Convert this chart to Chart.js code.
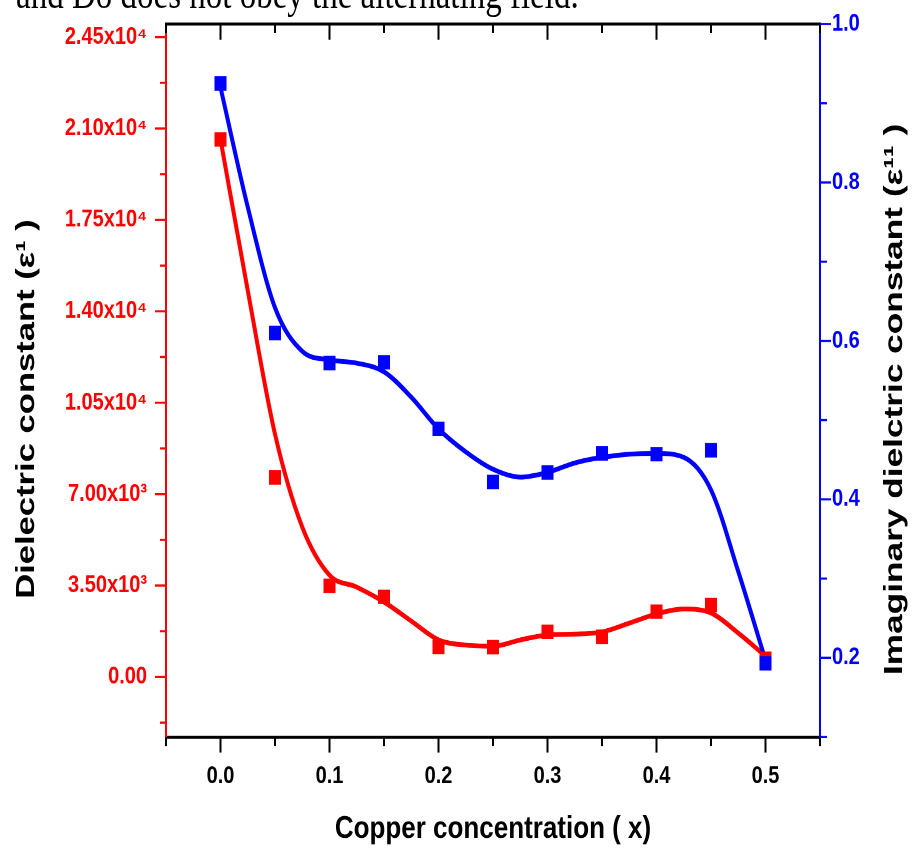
<!DOCTYPE html>
<html>
<head>
<meta charset="utf-8">
<script src="https://cdn.jsdelivr.net/npm/chart.js@4.4.1/dist/chart.umd.min.js"></script>
<style>
  html, body { margin: 0; padding: 0; background: #ffffff; }
  #page { position: relative; width: 912px; height: 848px; overflow: hidden; }
  #stretch { position: absolute; left: 0; top: 0; width: 912px; height: 706px; transform: scaleY(1.2011); transform-origin: 0 0; }
  #c { display: block; }
  #caption { position: absolute; left: 16px; top: -28px; font-family: 'Liberation Serif', 'Times New Roman', serif; font-size: 33px; white-space: nowrap; color: #000; transform: scaleY(1.25); transform-origin: top left; }
</style>
</head>
<body>
<div id="page">
  <div id="stretch"><canvas id="c" width="912" height="706"></canvas></div>
  <div id="caption">and Do does not obey the alternating field.</div>
</div>
<script>
// ---- data ----
const concentration = [0, 0.05, 0.1, 0.15, 0.2, 0.25, 0.3, 0.35, 0.4, 0.45, 0.5];
const dielectricReal = [20580, 7640, 3490, 3070, 1150, 1140, 1730, 1540, 2500, 2750, 700];
const dielectricImag = [0.925, 0.610, 0.572, 0.573, 0.489, 0.422, 0.434, 0.458, 0.457, 0.462, 0.193];

// smoothed fit curves
const fitX = [0, 0.025, 0.05, 0.075, 0.1, 0.125, 0.15, 0.175, 0.2, 0.225, 0.25, 0.275, 0.3, 0.325, 0.35, 0.375, 0.4, 0.425, 0.45, 0.475, 0.5];
const fitReal = [20580, 14800, 9300, 5740, 3900, 3440, 2870, 2140, 1420, 1220, 1180, 1415, 1610, 1640, 1720, 2060, 2410, 2600, 2450, 1680, 800];
const fitImag = [0.920, 0.769, 0.642, 0.587, 0.576, 0.572, 0.561, 0.529, 0.489, 0.460, 0.438, 0.428, 0.434, 0.446, 0.453, 0.457, 0.458, 0.453, 0.412, 0.309, 0.197];

// ticks
const xTickValues = [0, 0.1, 0.2, 0.3, 0.4, 0.5];
const xTickLabels = ['0.0', '0.1', '0.2', '0.3', '0.4', '0.5'];
const leftTickValues = [0, 3500, 7000, 10500, 14000, 17500, 21000, 24500];
const leftTickLabels = ['0.00', '3.50x10\u00B3', '7.00x10\u00B3', '1.05x10\u2074', '1.40x10\u2074', '1.75x10\u2074', '2.10x10\u2074', '2.45x10\u2074'];
const rightTickValues = [0.2, 0.4, 0.6, 0.8, 1.0];
const rightTickLabels = ['0.2', '0.4', '0.6', '0.8', '1.0'];

const xTitle = 'Copper concentration ( x)';
const leftTitle = 'Dielectric constant (\u03B5\u00B9 )';
const rightTitle = 'Imaginary dielctric constant (\u03B5\u00B9\u00B9 )';

// ---- styling ----
const RED = '#ff0000';
const BLUE = '#0000ff';
const FONT = "'Liberation Sans', Arial, sans-serif";

const pts = (xs, ys) => xs.map((x, i) => ({ x: x, y: ys[i] }));

const axisDecor = {
  id: 'axisDecor',
  afterDraw(chart) {
    const ctx = chart.ctx;
    const a = chart.chartArea;
    const sx = chart.scales.x, sy = chart.scales.y, sy1 = chart.scales.y1;
    const line = (x1, y1, x2, y2) => { ctx.beginPath(); ctx.moveTo(x1, y1); ctx.lineTo(x2, y2); ctx.stroke(); };
    ctx.save();
    // top frame line
    ctx.strokeStyle = '#000'; ctx.lineWidth = 2.5;
    line(a.left - 1, a.top, a.right + 1, a.top);
    // x ticks (bottom outward, top inward)
    ctx.lineWidth = 2;
    for (let i = -1; i <= 11; i++) {
      const v = i * 0.05;
      const px = sx.getPixelForValue(v);
      const len = (i % 2 === 0) ? 13 : 7.5;
      line(px, a.bottom, px, a.bottom + len);
      line(px, a.top, px, a.top + len);
    }
    // left ticks
    ctx.strokeStyle = RED;
    ctx.lineWidth = 1.8;
    for (let i = -1; i <= 14; i++) {
      const v = i * 1750;
      if (v < sy.min || v > sy.max) continue;
      const py = sy.getPixelForValue(v);
      const len = (i % 2 === 0) ? 11 : 6;
      line(a.left - len, py, a.left, py);
    }
    // right ticks
    ctx.strokeStyle = BLUE;
    for (let i = 1; i <= 10; i++) {
      const v = i * 0.1;
      const py = sy1.getPixelForValue(v);
      const len = (i % 2 === 0) ? 11 : 7;
      line(a.right, py, a.right + len, py);
    }
    // vertical titles (reading bottom to top)
    const drawV = (text, cx, cy, target, size) => {
      ctx.save();
      ctx.font = 'bold ' + size + 'px ' + FONT;
      const w = ctx.measureText(text).width;
      ctx.translate(cx, cy);
      ctx.rotate(-Math.PI / 2);
      ctx.scale(target / w, 1);
      ctx.fillStyle = '#000';
      ctx.textAlign = 'center';
      ctx.textBaseline = 'middle';
      ctx.fillText(text, 0, 0);
      ctx.restore();
    };
    drawV(leftTitle, 27, 340.5, 316, 26);
    drawV(rightTitle, 895, 332.5, 459, 26);
    ctx.restore();
  }
};

const fixV = w => s => { s.width = w; s.paddingTop = 0; s.paddingBottom = 0; };

new Chart(document.getElementById('c'), {
  type: 'scatter',
  data: {
    datasets: [
      { label: 'Imag points', data: pts(concentration, dielectricImag), yAxisID: 'y1', showLine: false,
        pointStyle: 'rect', pointRadius: 8.5, pointHoverRadius: 8.5, backgroundColor: BLUE, borderColor: BLUE, borderWidth: 0 },
      { label: 'Real points', data: pts(concentration, dielectricReal), yAxisID: 'y', showLine: false,
        pointStyle: 'rect', pointRadius: 8.5, pointHoverRadius: 8.5, backgroundColor: RED, borderColor: RED, borderWidth: 0 },
      { label: 'Imag fit', data: pts(fitX, fitImag), yAxisID: 'y1', showLine: true, pointRadius: 0,
        borderColor: BLUE, borderWidth: 4, cubicInterpolationMode: 'monotone', fill: false },
      { label: 'Real fit', data: pts(fitX, fitReal), yAxisID: 'y', showLine: true, pointRadius: 0,
        borderColor: RED, borderWidth: 4, cubicInterpolationMode: 'monotone', fill: false }
    ]
  },
  options: {
    responsive: false,
    animation: false,
    devicePixelRatio: 2,
    layout: { padding: { top: 20, left: 0, right: 0, bottom: 0 } },
    plugins: { legend: { display: false }, tooltip: { enabled: false } },
    scales: {
      x: {
        type: 'linear', position: 'bottom', min: -0.05, max: 0.55,
        afterBuildTicks: s => { s.ticks = xTickValues.map(v => ({ value: v })); },
        afterFit: s => { s.height = 92.4; s.paddingLeft = 0; s.paddingRight = 0; },
        grid: { display: false },
        border: { display: true, color: '#000', width: 2.5 },
        ticks: { autoSkip: false, maxRotation: 0, padding: 13, color: '#000',
          font: { family: FONT, size: 20, weight: 'bold' },
          callback: (v, i) => xTickLabels[i] },
        title: { display: true, text: xTitle, color: '#000', padding: { top: 0, bottom: 0 },
          font: { family: FONT, size: 26, weight: 'bold' } }
      },
      y: {
        type: 'linear', position: 'left', min: -2300, max: 25000,
        afterBuildTicks: s => { s.ticks = leftTickValues.map(v => ({ value: v })); },
        afterFit: fixV(166),
        grid: { display: false },
        border: { display: true, color: RED, width: 2 },
        ticks: { autoSkip: false, padding: 11, color: RED,
          font: { family: FONT, size: 20, weight: 'bold' },
          callback: (v, i) => leftTickLabels[i] }
      },
      y1: {
        type: 'linear', position: 'right', min: 0.1, max: 1.0,
        afterBuildTicks: s => { s.ticks = rightTickValues.map(v => ({ value: v })); },
        afterFit: fixV(92),
        grid: { display: false },
        border: { display: true, color: BLUE, width: 2 },
        ticks: { autoSkip: false, padding: 4, color: BLUE,
          font: { family: FONT, size: 20, weight: 'bold' },
          callback: (v, i) => rightTickLabels[i] }
      }
    }
  },
  plugins: [axisDecor]
});
</script>
</body>
</html>
